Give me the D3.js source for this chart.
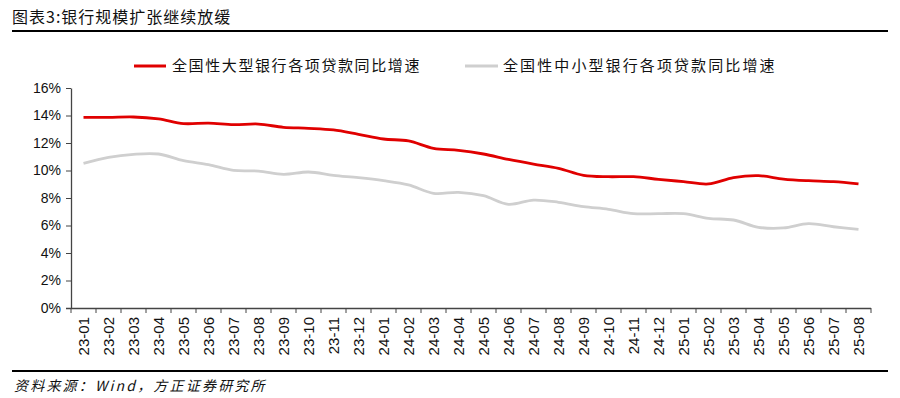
<!DOCTYPE html>
<html><head><meta charset="utf-8">
<script src="https://cdn.jsdelivr.net/npm/d3@7"></script>
<style>
body{margin:0;background:#fff;}
svg{display:block;}
</style></head>
<body>
<svg id="chart" width="900" height="398"></svg>
<script>
const categories = ["23-01","23-02","23-03","23-04","23-05","23-06","23-07","23-08","23-09","23-10","23-11","23-12",
"24-01","24-02","24-03","24-04","24-05","24-06","24-07","24-08","24-09","24-10","24-11","24-12",
"25-01","25-02","25-03","25-04","25-05","25-06","25-07","25-08"];
const largeBanks = [13.86,13.86,13.89,13.75,13.41,13.45,13.33,13.38,13.14,13.07,12.95,12.63,
12.29,12.15,11.61,11.47,11.2,10.81,10.47,10.16,9.65,9.55,9.55,9.36,
9.19,9.02,9.48,9.62,9.38,9.26,9.19,9.02];
const smallBanks = [10.52,10.96,11.18,11.2,10.71,10.42,10.01,9.96,9.72,9.89,9.65,9.48,
9.26,8.95,8.34,8.41,8.17,7.54,7.85,7.69,7.37,7.18,6.86,6.86,
6.86,6.52,6.4,5.87,5.82,6.13,5.91,5.72];
const yTicks = [0,2,4,6,8,10,12,14,16];
const seriesNames = ["全国性大型银行各项贷款同比增速","全国性中小型银行各项贷款同比增速"];
const title = "图表3:银行规模扩张继续放缓";
const source = "资料来源：Wind，方正证券研究所";

(function(){
const svg = d3.select("#chart");
const pL = 71, pR = 871, pT = 88, pB = 308;
const x = d3.scaleBand().domain(categories).range([pL, pR]).padding(0);
const y = d3.scaleLinear().domain([0,16]).range([pB, pT]);

// title & rules
svg.append("text").attr("x",12).attr("y",23).attr("font-family","'Noto Sans CJK SC', sans-serif")
  .attr("font-size",16).attr("letter-spacing","1px").attr("fill","#111").text(title);
svg.append("line").attr("x1",12).attr("x2",888).attr("y1",31).attr("y2",31).attr("stroke","#000").attr("stroke-width",2);
svg.append("line").attr("x1",12).attr("x2",888).attr("y1",371).attr("y2",371).attr("stroke","#000").attr("stroke-width",2);
svg.append("text").attr("x",14).attr("y",391).attr("font-family","'Noto Sans CJK SC', sans-serif")
  .attr("font-size",14).attr("font-style","italic").attr("letter-spacing","2.2px").attr("fill","#111").text(source);

// y axis
const yAxis = svg.append("g").attr("transform",`translate(${pL},0)`)
  .call(d3.axisLeft(y).tickValues(yTicks).tickFormat(d=>d+"%").tickSize(5).tickSizeOuter(0));
yAxis.select(".domain").attr("stroke","#444").attr("stroke-width",1.3);
yAxis.selectAll(".tick line").attr("stroke","#444");
yAxis.selectAll("text").attr("font-family","'Liberation Sans', Arial, sans-serif").attr("font-size",14).attr("fill","#111").attr("x",-10);

// x axis
const xAxis = svg.append("g").attr("transform",`translate(0,${pB})`)
  .call(d3.axisBottom(x).tickSize(0).tickSizeOuter(0));
xAxis.select(".domain").attr("stroke","#444").attr("stroke-width",1.3).attr("d",`M${pL-5},0.5H${pR}`);
xAxis.selectAll(".tick line").remove();
xAxis.selectAll(".tick text").attr("font-family","'Liberation Sans', Arial, sans-serif").attr("font-size",15).attr("fill","#111")
  .attr("transform","rotate(-90)").attr("text-anchor","end").attr("x",-9).attr("y",0).attr("dy","0.35em");
const bounds = categories.map(c=>x(c)).concat([pR]);
svg.append("g").selectAll("line").data(bounds).join("line")
  .attr("x1",d=>d).attr("x2",d=>d).attr("y1",pB).attr("y2",pB+5).attr("stroke","#444");

// lines
const line = d3.line().x((d,i)=>x(categories[i])+x.bandwidth()/2).y(d=>y(d)).curve(d3.curveCatmullRom.alpha(0.5));
svg.append("path").datum(smallBanks).attr("d",line).attr("fill","none").attr("stroke","#cfcfcf").attr("stroke-width",2.8);
svg.append("path").datum(largeBanks).attr("d",line).attr("fill","none").attr("stroke","#e00000").attr("stroke-width",2.8);

// legend
const lg = [{x1:134,x2:166,tx:172,c:"#e00000",t:seriesNames[0],ls:1.6},{x1:465,x2:498,tx:503,c:"#cfcfcf",t:seriesNames[1],ls:2.1}];
lg.forEach(l=>{
  svg.append("line").attr("x1",l.x1).attr("x2",l.x2).attr("y1",66).attr("y2",66).attr("stroke",l.c).attr("stroke-width",3);
  svg.append("text").attr("x",l.tx).attr("y",71).attr("font-family","'Noto Sans CJK SC', sans-serif")
    .attr("font-size",15).attr("letter-spacing",l.ls+"px").attr("fill","#111").text(l.t);
});
})();
</script>
</body></html>
